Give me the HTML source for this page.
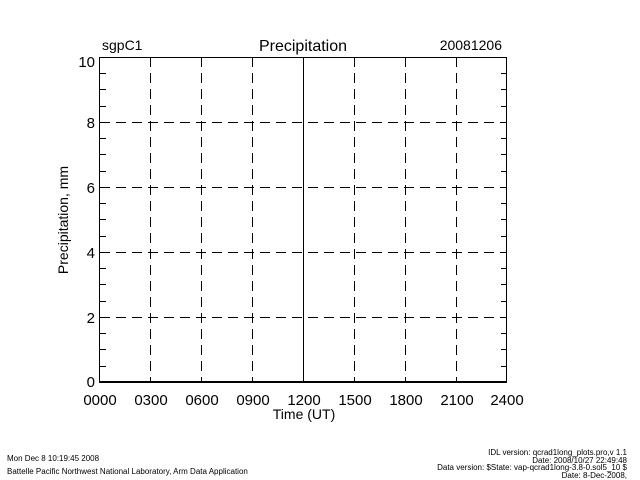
<!DOCTYPE html>
<html><head><meta charset="utf-8"><style>
html,body{margin:0;padding:0;background:#fff;}
svg{display:block;}
text{font-family:"Liberation Sans",sans-serif;fill:#000;}
</style></head><body>
<svg width="640" height="480" viewBox="0 0 640 480" xmlns="http://www.w3.org/2000/svg">
<rect width="640" height="480" fill="#fff"/>
<g stroke="#000" stroke-width="1" fill="none" shape-rendering="crispEdges">
<!-- horizontal dashed grid -->
<line x1="100" y1="122.5" x2="507" y2="122.5" stroke-dasharray="10,6"/>
<line x1="100" y1="187.5" x2="507" y2="187.5" stroke-dasharray="10,6"/>
<line x1="100" y1="252.5" x2="507" y2="252.5" stroke-dasharray="10,6"/>
<line x1="100" y1="317.5" x2="507" y2="317.5" stroke-dasharray="10,6"/>
<!-- vertical dashed grid -->
<line x1="150.5" y1="57" x2="150.5" y2="383" stroke-dasharray="10,6"/>
<line x1="201.5" y1="57" x2="201.5" y2="383" stroke-dasharray="10,6"/>
<line x1="252.5" y1="57" x2="252.5" y2="383" stroke-dasharray="10,6"/>
<line x1="303.5" y1="57" x2="303.5" y2="383"/>
<line x1="354.5" y1="57" x2="354.5" y2="383" stroke-dasharray="10,6"/>
<line x1="405.5" y1="57" x2="405.5" y2="383" stroke-dasharray="10,6"/>
<line x1="456.5" y1="57" x2="456.5" y2="383" stroke-dasharray="10,6"/>
<!-- frame -->
<line x1="99.5" y1="57" x2="99.5" y2="383"/>
<line x1="506.5" y1="57" x2="506.5" y2="383"/>
<line x1="99" y1="57.5" x2="507" y2="57.5"/>
<line x1="99" y1="382" x2="507" y2="382" stroke-width="2"/>
<!-- y ticks -->
<path d="M100 73.5h6M100 89.5h6M100 106.5h6M100 138.5h6M100 154.5h6M100 171.5h6M100 203.5h6M100 219.5h6M100 236.5h6M100 268.5h6M100 284.5h6M100 301.5h6M100 333.5h6M100 349.5h6M100 366.5h6"/>
<path d="M507 73.5h-6M507 89.5h-6M507 106.5h-6M507 138.5h-6M507 154.5h-6M507 171.5h-6M507 203.5h-6M507 219.5h-6M507 236.5h-6M507 268.5h-6M507 284.5h-6M507 301.5h-6M507 333.5h-6M507 349.5h-6M507 366.5h-6"/>
</g>
<g font-size="15" text-anchor="end">
<text x="95" y="67">10</text>
<text x="95" y="128">8</text>
<text x="95" y="193">6</text>
<text x="95" y="258">4</text>
<text x="95" y="323">2</text>
<text x="95" y="387">0</text>
</g>
<g font-size="15" text-anchor="middle">
<text x="100" y="405">0000</text>
<text x="151" y="405">0300</text>
<text x="202" y="405">0600</text>
<text x="253" y="405">0900</text>
<text x="304" y="405">1200</text>
<text x="355" y="405">1500</text>
<text x="406" y="405">1800</text>
<text x="457" y="405">2100</text>
<text x="507" y="405">2400</text>
<text x="304" y="419" font-size="14">Time (UT)</text>
<text x="303" y="51" font-size="16">Precipitation</text>
</g>
<text x="102" y="50" font-size="14">sgpC1</text>
<text x="502" y="50" font-size="14" text-anchor="end">20081206</text>
<text transform="translate(68,220) rotate(-90)" font-size="14" text-anchor="middle">Precipitation, mm</text>
<g font-size="8">
<text x="7" y="461">Mon Dec  8 10:19:45 2008</text>
<text x="7" y="474">Battelle Pacific Northwest National Laboratory, Arm Data Application</text>
</g>
<g font-size="8" text-anchor="end">
<text x="627" y="455">IDL version: qcrad1long_plots.pro,v 1.1</text>
<text x="627" y="463">Date: 2008/10/27 22:49:48</text>
<text x="627" y="470">Data version: $State: vap-qcrad1long-3.8-0.sol5_10 $</text>
<text x="627" y="478">Date: 8-Dec-2008,</text>
</g>
</svg>
</body></html>
